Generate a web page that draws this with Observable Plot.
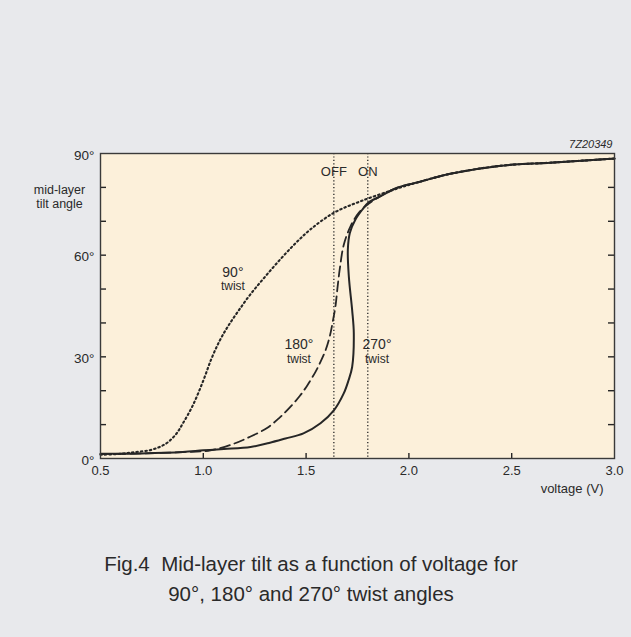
<!DOCTYPE html>
<html>
<head>
<meta charset="utf-8">
<script src="https://cdn.jsdelivr.net/npm/d3@7"></script>
<script src="https://cdn.jsdelivr.net/npm/@observablehq/plot@0.6"></script>
<style>
  html, body { margin: 0; padding: 0; background: #e8e9ec; }
  #wrap { width: 631px; height: 637px; position: relative; overflow: hidden; background: #e8e9ec; }
  #chart svg { display: block; }
  #caption { position: absolute; left: 0; top: 549px; width: 622px; text-align: center;
    font-family: "Liberation Sans", Arial, sans-serif; font-size: 20.5px; line-height: 30px; color: #2a2a2a; }
</style>
</head>
<body>
<div id="wrap">
  <div id="chart"></div>
  <div id="caption">Fig.4&nbsp; Mid-layer tilt as a function of voltage for<br>90°, 180° and 270° twist angles</div>
</div>
<script>
// 90° twist (dotted)
const v90 = [0.5, 0.6, 0.67, 0.75, 0.816, 0.865, 0.9, 0.95, 1.0, 1.04, 1.08, 1.12, 1.17, 1.23, 1.30, 1.375, 1.45, 1.521, 1.635, 1.765, 1.925, 2.05, 2.2, 2.45, 2.69, 3.0];
const a90 = [1.1, 1.4, 1.9, 2.6, 4.3, 7.0, 10.3, 15.8, 23, 29.5, 34.8, 39, 43.5, 48.5, 53.6, 58.8, 63.6, 67.6, 72.5, 75.9, 79.3, 81.6, 84, 86.4, 87.3, 88.5];
// 180° twist (dashed)
const v180 = [0.5, 0.7, 0.9, 1.035, 1.15, 1.23, 1.31, 1.37, 1.42, 1.47, 1.505, 1.545, 1.57, 1.595, 1.615, 1.63, 1.643, 1.652, 1.664, 1.683, 1.716, 1.756, 1.80, 1.862, 1.943, 2.05, 2.2, 2.45, 2.69, 3.0];
const a180 = [1.3, 1.5, 1.9, 2.4, 4.4, 6.5, 9, 12, 15, 18.5, 21.5, 25.5, 28.5, 32, 36, 40.5, 45, 50, 56, 63, 68.5, 72.5, 75, 77.4, 79.9, 81.6, 84, 86.4, 87.3, 88.5];
// 270° twist (solid)
const v270 = [0.5, 0.7, 0.9, 1.0, 1.1, 1.23, 1.32, 1.40, 1.487, 1.57, 1.635, 1.683, 1.706, 1.724, 1.732, 1.724, 1.708, 1.703, 1.713, 1.74, 1.773, 1.803, 1.862, 1.943, 2.05, 2.2, 2.45, 2.69, 3.0];
const a270 = [1.4, 1.5, 1.9, 2.4, 2.8, 3.4, 4.6, 5.9, 7.4, 10.4, 14.2, 19.2, 23, 27, 37, 43.8, 53.6, 61.6, 66.6, 70.5, 73.4, 75.5, 77.4, 79.9, 81.6, 84, 86.4, 87.3, 88.5];

const switchV = [1.635, 1.80];
const switchLabels = ["OFF", "ON"];

const xTicks = [0.5, 1.0, 1.5, 2.0, 2.5, 3.0];
const xTickLabels = ["0.5", "1.0", "1.5", "2.0", "2.5", "3.0"];
const yTicks = [0, 30, 60, 90];
const yTickLabels = ["0°", "30°", "60°", "90°"];
const yMinor = [10, 20, 30, 40, 50, 60, 70, 80];

const curveLabels = ["90°", "180°", "270°"];
const curveLabelV = [1.144, 1.465, 1.845];
const curveLabelA = [55, 33.5, 33.5];

const W = 631, H = 520;
const mL = 100, mR = 17, mT = 153, mB = 62;
const plotW = W - mL - mR, plotH = H - mT - mB;
const ink = "#262626";
const font = "Liberation Sans, Arial, sans-serif";

const toRows = (v, a) => v.map((d, i) => ({v: d, a: a[i]}));
const d90 = toRows(v90, a90), d180 = toRows(v180, a180), d270 = toRows(v270, a270);
const labels = curveLabels.map((t, i) => ({t, v: curveLabelV[i], a: curveLabelA[i]}));
const switches = switchV.map((v, i) => ({v, t: switchLabels[i]}));

const chart = Plot.plot({
  width: W, height: H,
  marginLeft: mL, marginRight: mR, marginTop: mT, marginBottom: mB,
  style: {background: "transparent", fontFamily: font, color: ink},
  x: {domain: [0.5, 3.0]},
  y: {domain: [0, 90]},
  marks: [
    Plot.frame({fill: "#fcf0da", stroke: null}),
    // switching voltages
    Plot.ruleX(switches, {x: "v", stroke: ink, strokeWidth: 1.3, strokeDasharray: "1.2,2.2"}),
    Plot.text(switches, {x: "v", text: "t", frameAnchor: "top", lineAnchor: "bottom", dy: 22, fontSize: 13, fill: "#2a2a2a"}),
    // curves
    Plot.line(d90, {x: "v", y: "a", stroke: ink, strokeWidth: 2.1, strokeDasharray: "1.5,3", curve: "catmull-rom"}),
    Plot.line(d180, {x: "v", y: "a", stroke: ink, strokeWidth: 1.8, strokeDasharray: "10,5", curve: "catmull-rom"}),
    Plot.line(d270, {x: "v", y: "a", stroke: ink, strokeWidth: 2, curve: "catmull-rom"}),
    // curve labels
    Plot.text(labels, {x: "v", y: "a", text: "t", fontSize: 14, fill: "#2a2a2a"}),
    Plot.text(labels, {x: "v", y: "a", text: () => "twist", fontSize: 12, fill: "#2a2a2a", dy: 14}),
    // inward minor ticks
    Plot.tickY(yMinor, {y: d => d, insetRight: plotW - 6, stroke: ink, strokeWidth: 1.4}),
    Plot.tickY(yMinor, {y: d => d, insetLeft: plotW - 6, stroke: ink, strokeWidth: 1.4}),
    Plot.tickX(xTicks.slice(1, -1), {x: d => d, insetTop: plotH - 5, stroke: ink, strokeWidth: 1.4}),
    // axes labels
    Plot.axisX({ticks: xTicks, tickFormat: (d, i) => xTickLabels[i], tickSize: 0, tickPadding: 7, fontSize: 13, label: null, fill: "#2a2a2a"}),
    Plot.axisY({ticks: yTicks, tickFormat: (d, i) => yTickLabels[i], tickSize: 0, tickPadding: 6, fontSize: 13.5, label: null, dy: 2, fill: "#2a2a2a"}),
    Plot.text(["mid-layer\ntilt angle"], {frameAnchor: "top-left", dx: -41, dy: 31, textAnchor: "middle", lineAnchor: "top", fontSize: 12.5, lineHeight: 1.1, fill: "#2a2a2a"}),
    Plot.text(["voltage (V)"], {frameAnchor: "bottom-right", dx: -11, dy: 34, textAnchor: "end", fontSize: 13, fill: "#2a2a2a"}),
    Plot.text(["7Z20349"], {frameAnchor: "top-right", dx: -2, dy: -6, lineAnchor: "bottom", textAnchor: "end", fontSize: 11, fontStyle: "italic", fill: "#2a2a2a"}),
    Plot.frame({stroke: "#3a3a3a", strokeWidth: 1.4})
  ]
});
document.getElementById("chart").appendChild(chart);
</script>
</body>
</html>
